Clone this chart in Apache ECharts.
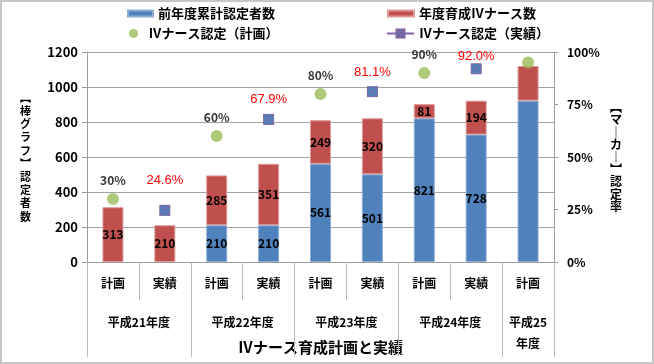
<!DOCTYPE html>
<html><head><meta charset="utf-8">
<script src="https://cdn.jsdelivr.net/npm/echarts@6/dist/echarts.min.js"></script>
<style>
html,body{margin:0;padding:0;background:#fff;}
#wrap{position:relative;width:654px;height:364px;}
#c{width:654px;height:364px;}
#frame{position:absolute;left:0;top:0;width:654px;height:364px;box-sizing:border-box;border:2px solid #c6c6c6;pointer-events:none;}
</style></head><body>
<div id="wrap"><div id="c"></div><div id="frame"></div></div>
<script>
// ---- data ----
const categories = ['計画','実績','計画','実績','計画','実績','計画','実績','計画'];
const groupLabels = ['平成21年度','平成22年度','平成23年度','平成24年度','平成25\n年度'];
const groupSizes = [2, 2, 2, 2, 1];
const prevCumulative = [null, null, 210, 210, 561, 501, 821, 728, 922];
const trainedThisYear = [313, 210, 285, 351, 249, 320, 81, 194, 198];
const ratePlan = [30, null, 60, null, 80, null, 90, null, 95];
const rateActual = [null, 24.6, null, 67.9, null, 81.1, null, 92.0, null];
const countAxis = {min: 0, max: 1200, step: 200};
const rateAxis = {min: 0, max: 100, step: 25};
const seriesNames = ['前年度累計認定者数', '年度育成Ⅳナース数', 'Ⅳナース認定（計画）', 'Ⅳナース認定（実績）'];
const xAxisTitle = 'Ⅳナース育成計画と実績';
const leftAxisTitle = ['︻','棒','グ','ラ','フ','︼','認','定','者','数'];
const rightAxisTitle = ['︻','マ','｜','カ','｜','︼','認','定','率'];

// ---- derived ----
const groupBounds = [0];
groupSizes.forEach(s => groupBounds.push(groupBounds[groupBounds.length - 1] + s));
const groupCenters = groupSizes.map((s, i) => groupBounds[i] + s / 2);
const lastIdx = categories.length - 1;

const FONT = '"Noto Sans CJK JP", "Noto Sans", sans-serif';
const bold = {fontFamily: FONT, fontWeight: 'bold', color: '#000'};
const gridColor = '#a3a3a3';
const axisColor = '#9c9c9c';

const barLabel = Object.assign({show: true, position: 'inside', fontSize: 12}, bold);

function barData(arr) {
  return arr.map((v, i) => (i === lastIdx && v != null) ? {value: v, label: {show: false}} : v);
}
const actualNudge = {1: 10, 7: -7};
function rateData(arr, nudge) {
  return arr.map((v, i) => {
    if (v == null) return null;
    if (i === lastIdx) return {value: v, label: {show: false}};
    if (nudge && nudge[i] != null) return {value: v, label: {distance: 7.5 + nudge[i]}};
    return v;
  });
}

const chart = echarts.init(document.getElementById('c'), null, {renderer: 'canvas'});
chart.setOption({
  backgroundColor: '#fff',
  animation: false,
  grid: {left: 87, right: 100, top: 52, bottom: 102, containLabel: false, outerBoundsMode: 'none'},
  legend: [
    {data: [{name: seriesNames[0], icon: 'rect'}], left: 127, top: 7, padding: 0, itemWidth: 25, itemHeight: 6, textStyle: Object.assign({fontSize: 13}, bold)},
    {data: [{name: seriesNames[1], icon: 'rect'}], left: 387, top: 7, padding: 0, itemWidth: 26, itemHeight: 6, textStyle: Object.assign({fontSize: 13}, bold)},
    {data: [seriesNames[2]], left: 129, top: 27, padding: 0, itemWidth: 20, itemHeight: 9, textStyle: Object.assign({fontSize: 13}, bold)},
    {data: [seriesNames[3]], left: 386, top: 27, padding: 0, itemWidth: 27, itemHeight: 10, textStyle: Object.assign({fontSize: 13}, bold)}
  ],
  xAxis: [
    {
      type: 'category', data: categories, position: 'bottom',
      axisLine: {lineStyle: {color: axisColor}},
      axisTick: {show: true, interval: 0, length: 38, lineStyle: {color: '#b8b8b8'}},
      axisLabel: Object.assign({interval: 0, margin: 15, fontSize: 12}, bold),
      splitLine: {show: false}
    },
    {
      type: 'value', min: 0, max: categories.length, position: 'bottom',
      axisLine: {show: false},
      axisTick: {show: true, customValues: groupBounds, length: 95, lineStyle: {color: '#b8b8b8'}},
      axisLabel: Object.assign({
        customValues: groupCenters, margin: 50, fontSize: 12, lineHeight: 21,
        formatter: function (v) {
          let best = 0;
          groupCenters.forEach((c, i) => { if (Math.abs(c - v) < Math.abs(groupCenters[best] - v)) best = i; });
          return groupLabels[best];
        }
      }, bold),
      splitLine: {show: false},
      name: xAxisTitle, nameLocation: 'middle', nameGap: 78, nameMoveOverlap: false,
      nameTextStyle: Object.assign({fontSize: 15}, bold)
    }
  ],
  yAxis: [
    {
      type: 'value', min: countAxis.min, max: countAxis.max, interval: countAxis.step, position: 'left',
      axisLine: {show: true, lineStyle: {color: axisColor}},
      axisTick: {show: true, length: 5, lineStyle: {color: axisColor}},
      axisLabel: Object.assign({margin: 9, fontSize: 13, formatter: v => String(v)}, bold),
      splitLine: {show: true, lineStyle: {color: gridColor, width: 1}},
      name: leftAxisTitle.join('\n'), nameLocation: 'middle', nameRotate: 0, nameGap: 56, nameMoveOverlap: false,
      nameTextStyle: Object.assign({fontSize: 11, lineHeight: 13.2}, bold)
    },
    {
      type: 'value', min: rateAxis.min, max: rateAxis.max, interval: rateAxis.step, position: 'right',
      axisLine: {show: true, lineStyle: {color: axisColor}},
      axisTick: {show: true, length: 4, lineStyle: {color: axisColor}},
      axisLabel: Object.assign({margin: 13, fontSize: 12, formatter: '{value}%'}, bold),
      splitLine: {show: false},
      name: rightAxisTitle.join('\n'), nameLocation: 'middle', nameRotate: 0, nameGap: 56, nameMoveOverlap: false,
      nameTextStyle: Object.assign({fontSize: 12, lineHeight: 12.4}, bold)
    }
  ],
  series: [
    {
      name: seriesNames[0], type: 'bar', stack: 'count', xAxisIndex: 0, yAxisIndex: 0,
      barWidth: 21, data: barData(prevCumulative),
      itemStyle: {color: '#4F81BD', borderColor: '#8eacd6', borderWidth: 1},
      label: barLabel
    },
    {
      name: seriesNames[1], type: 'bar', stack: 'count', xAxisIndex: 0, yAxisIndex: 0,
      barWidth: 21, data: barData(trainedThisYear),
      itemStyle: {color: '#C0504D', borderColor: '#dd9a98', borderWidth: 1},
      label: barLabel
    },
    {
      name: seriesNames[2], type: 'scatter', xAxisIndex: 0, yAxisIndex: 1,
      symbol: 'circle', symbolSize: 12, data: rateData(ratePlan, null),
      itemStyle: {color: '#9BBB59'},
      label: Object.assign({show: true, position: 'top', distance: 7, fontSize: 12, formatter: '{c}%'}, bold),
      z: 5
    },
    {
      name: seriesNames[3], type: 'line', xAxisIndex: 0, yAxisIndex: 1,
      connectNulls: false,
      symbol: 'path://M0 0L10 0L10 10L0 10ZM0 0L10 10M10 0L0 10', symbolSize: 10,
      showAllSymbol: true,
      data: rateData(rateActual, actualNudge),
      itemStyle: {color: '#4F81BD', borderColor: '#8064A2', borderWidth: 1},
      lineStyle: {color: '#8064A2', width: 2},
      label: {show: true, position: 'top', distance: 7.5, fontSize: 13, color: '#FF0000',
              fontFamily: '"Liberation Sans", Arial, sans-serif',
              formatter: p => Number(p.value).toFixed(1) + '%'},
      z: 6
    }
  ]
});
</script>
</body></html>
